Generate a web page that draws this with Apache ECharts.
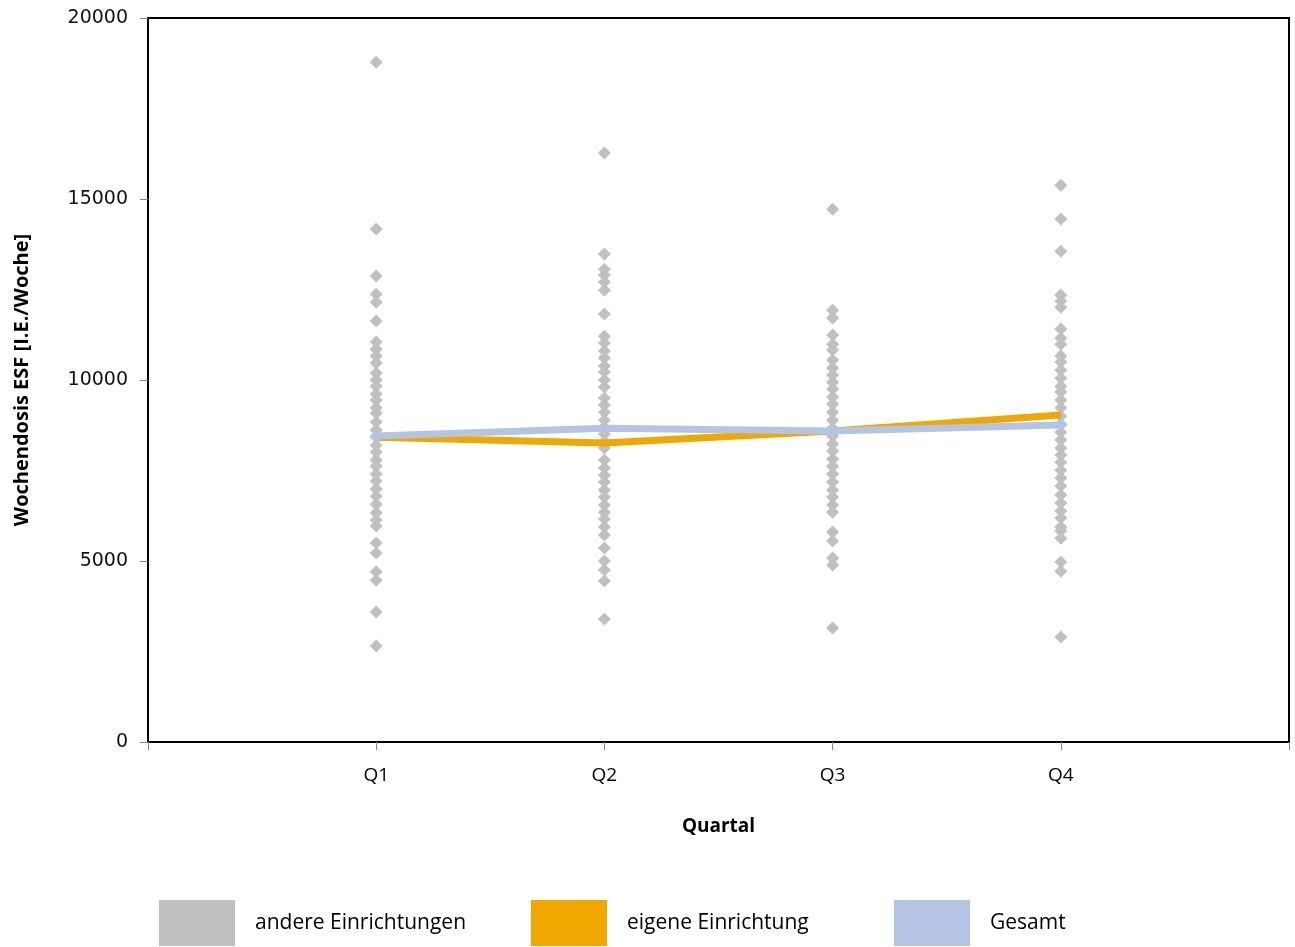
<!DOCTYPE html>
<html>
<head>
<meta charset="utf-8">
<script src="https://cdn.jsdelivr.net/npm/echarts@6/dist/echarts.min.js"></script>
<style>html,body{margin:0;padding:0;background:#fff}#c{width:1295px;height:947px}</style>
</head>
<body>
<div id="c"></div>
<script>
const categories = ['', 'Q1', 'Q2', 'Q3', 'Q4', ''];
const yTicks = [0, 5000, 10000, 15000, 20000];

const q1Others = [18780,14170,12870,12370,12150,11630,11050,10850,10660,10470,10190,10000,9830,9610,9450,9230,9090,8840,8620,8420,8200,8010,7790,7620,7400,7210,6990,6790,6570,6330,6130,5970,5500,5220,4700,4470,3590,2650];
const q2Others = [16270,13480,13060,12900,12710,12480,11820,11210,11020,10800,10610,10390,10220,10000,9810,9500,9310,9110,8890,8700,8510,8310,8120,7790,7570,7370,7180,6960,6770,6550,6350,6160,5940,5720,5360,5000,4750,4450,3400];
const q3Others = [14720,11930,11710,11240,10990,10830,10550,10330,10140,9940,9750,9530,9340,9110,8890,8670,8450,8230,8040,7820,7620,7400,7180,6960,6770,6550,6350,5800,5550,5080,4890,3150];
const q4Others = [15380,14450,13560,12350,12180,12010,11410,11160,10990,10660,10500,10270,10050,9830,9670,9450,9230,9000,8780,8560,8340,8120,7930,7730,7510,7290,7070,6820,6600,6380,6190,5940,5830,5630,4970,4720,2900];
const ownValues = [8420, 8260, 8590, 9030];
const totalValues = [8450, 8670, 8590, 8760];

const quarterNames = ['Q1', 'Q2', 'Q3', 'Q4'];
const othersByQuarter = [q1Others, q2Others, q3Others, q4Others];
const scatterData = [];
othersByQuarter.forEach((arr, i) => arr.forEach(v => scatterData.push([quarterNames[i], v])));

const FONT = '"Open Sans", "DejaVu Sans", sans-serif';
const chart = echarts.init(document.getElementById('c'), null, {renderer: 'canvas'});
const legendBase = {
  bottom: 1, itemWidth: 76, itemHeight: 46, itemGap: 0, padding: 0,
  icon: 'rect',
  textStyle: {fontFamily: FONT, fontSize: 21, color: '#000', padding: [0, 0, 0, 15]}
};
chart.setOption({
  animation: false,
  backgroundColor: '#fff',
  grid: {left: 148, top: 18, right: 6, bottom: 205, show: true, borderColor: '#000', borderWidth: 2, containLabel: false},
  legend: [
    Object.assign({}, legendBase, {left: 159, data: ['andere Einrichtungen']}),
    Object.assign({}, legendBase, {left: 531, data: ['eigene Einrichtung']}),
    Object.assign({}, legendBase, {left: 894, data: ['Gesamt']})
  ],
  xAxis: {
    type: 'category', data: categories, boundaryGap: false,
    name: 'Quartal', nameLocation: 'middle', nameGap: 75,
    nameTextStyle: {fontFamily: FONT, fontSize: 19, fontWeight: 'bold', color: '#000'},
    axisLine: {show: true, lineStyle: {color: '#000', width: 2}},
    axisTick: {show: true, length: 8, lineStyle: {color: '#888', width: 1}},
    axisLabel: {margin: 24, fontFamily: FONT, fontSize: 19, color: '#000', interval: 0},
    splitLine: {show: false}
  },
  yAxis: {
    type: 'value', min: 0, max: 20000, interval: 5000,
    name: 'Wochendosis ESF [I.E./Woche]', nameLocation: 'middle', nameGap: 116, nameRotate: 90,
    nameTextStyle: {fontFamily: FONT, fontSize: 20, fontWeight: 'bold', color: '#000'},
    axisLine: {show: true, lineStyle: {color: '#000', width: 2}},
    axisTick: {show: true, length: 8, lineStyle: {color: '#888', width: 1}},
    axisLabel: {margin: 20, fontFamily: '"DejaVu Sans", sans-serif', fontSize: 19, color: '#111',
      formatter: v => yTicks.includes(v) ? String(v) : ''},
    splitLine: {show: false}
  },
  series: [
    {
      name: 'andere Einrichtungen', type: 'scatter', data: scatterData,
      symbol: 'diamond', symbolSize: 13,
      itemStyle: {color: '#c0c0c0', opacity: 1}, z: 2
    },
    {
      name: 'eigene Einrichtung', type: 'line', data: ownValues.map((v, i) => [quarterNames[i], v]),
      showSymbol: false, symbol: 'none',
      lineStyle: {color: '#f0a800', width: 7},
      itemStyle: {color: '#f0a800'}, z: 3
    },
    {
      name: 'Gesamt', type: 'line', data: totalValues.map((v, i) => [quarterNames[i], v]),
      symbol: 'diamond', symbolSize: 13, showSymbol: true,
      lineStyle: {color: '#b3c4e4', width: 7},
      itemStyle: {color: '#b3c4e4'}, z: 4
    }
  ]
});
</script>
</body>
</html>
